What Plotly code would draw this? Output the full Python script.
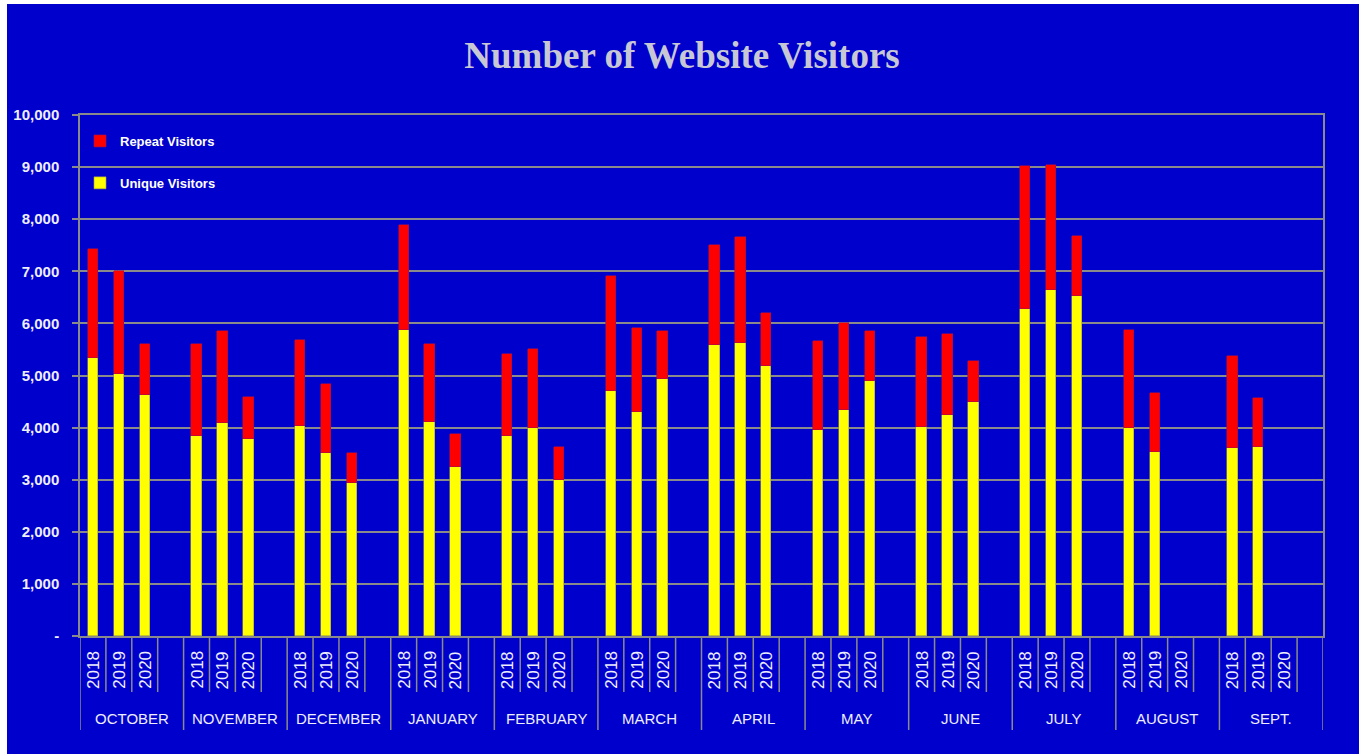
import plotly.graph_objects as go

months = ["OCTOBER", "NOVEMBER", "DECEMBER", "JANUARY", "FEBRUARY", "MARCH",
          "APRIL", "MAY", "JUNE", "JULY", "AUGUST", "SEPT."]
years = ["2018", "2019", "2020"]

unique_2018 = [5340, 3840, 4040, 5870, 3840, 4710, 5580, 3950, 4010, 6280, 3990, 3600]
unique_2019 = [5020, 4090, 3510, 4110, 3990, 4300, 5620, 4340, 4240, 6640, 3530, 3620]
unique_2020 = [4630, 3780, 2930, 3240, 2990, 4940, 5190, 4900, 4500, 6520, None, None]

repeat_2018 = [2080, 1770, 1640, 2010, 1570, 2200, 1930, 1710, 1730, 2740, 1880, 1770]
repeat_2019 = [1990, 1760, 1330, 1500, 1510, 1610, 2030, 1670, 1550, 2400, 1130, 940]
repeat_2020 = [980, 800, 580, 640, 640, 910, 1010, 950, 770, 1150, None, None]

y_ticks = [0, 1000, 2000, 3000, 4000, 5000, 6000, 7000, 8000, 9000, 10000]
y_tick_text = ["-", "1,000", "2,000", "3,000", "4,000", "5,000", "6,000",
               "7,000", "8,000", "9,000", "10,000"]

uniques = [unique_2018, unique_2019, unique_2020]
repeats = [repeat_2018, repeat_2019, repeat_2020]

SLOTS = 4  # 3 years + 1 empty slot per month
xs, u_vals, r_vals = [], [], []
for m in range(len(months)):
    for yi in range(len(years)):
        xs.append(m * SLOTS + yi)
        u_vals.append(uniques[yi][m])
        r_vals.append(repeats[yi][m])

BG = "#0000CC"
GRID = "#8A8A8A"
TXT = "#EEEEFF"
SANS = "Liberation Sans, Arial, sans-serif"
W, H = 1364, 754
L, R, T, B = 80, 41, 115, 118
pw, ph = W - L - R, H - T - B


def py(p):
    return (H - B - p) / ph


def px(p):
    return (p - L) / pw


fig = go.Figure()
fig.add_trace(go.Bar(x=xs, y=u_vals, name="Unique Visitors", legendgroup="u",
                     legendrank=2,
                     marker=dict(color="#FFFF00", line=dict(color="#9A9A50", width=0.6)),
                     width=0.4))
fig.add_trace(go.Bar(x=xs, y=r_vals, name="Repeat Visitors", legendgroup="r",
                     legendrank=1,
                     marker=dict(color="#FF0000", line=dict(color="#9A1050", width=0.6)),
                     width=0.4))

shapes = []
annotations = []
n_slots = len(months) * SLOTS
for i in range(n_slots + 1):
    is_month = (i % SLOTS == 0)
    shapes.append(dict(type="line", xref="x", yref="paper",
                       x0=i - 0.5, x1=i - 0.5, y0=0,
                       y1=py(730) if is_month else py(692),
                       line=dict(color=GRID, width=1.5)))
for m, name in enumerate(months):
    for yi, yr in enumerate(years):
        annotations.append(dict(x=m * SLOTS + yi, xref="x", y=py(670), yref="paper",
                                yanchor="middle", xanchor="center",
                                text=yr, textangle=-90, showarrow=False,
                                font=dict(family=SANS, size=17, color=TXT)))
    annotations.append(dict(x=m * SLOTS + 1.5, xref="x", y=py(718), yref="paper",
                            yanchor="middle", xanchor="center",
                            text=name, showarrow=False,
                            font=dict(family=SANS, size=15, color=TXT)))

# white frame strips around the blue page
for (x0, x1, y0, y1) in [(0, 7, 0, H), (1359, W, 0, H), (0, W, 0, 4)]:
    shapes.append(dict(type="rect", xref="paper", yref="paper",
                       x0=px(x0), x1=px(x1), y0=py(y1), y1=py(y0),
                       fillcolor="white", line=dict(width=0), layer="above"))

fig.update_layout(
    width=W, height=H,
    barmode="stack",
    paper_bgcolor=BG, plot_bgcolor=BG,
    margin=dict(l=L, r=R, t=T, b=B),
    title=dict(text="<b>Number of Website Visitors</b>", x=0.5, xanchor="center",
               y=1 - 55 / H, yanchor="middle",
               font=dict(family="Liberation Serif, DejaVu Serif, serif", size=37,
                         color="#C8C8D4")),
    xaxis=dict(range=[-0.5, n_slots - 0.5], showticklabels=False, showgrid=False,
               zeroline=False, showline=True, linecolor=GRID, linewidth=1.5,
               mirror=True, ticks=""),
    yaxis=dict(range=[0, 10000], tickvals=y_ticks, ticktext=y_tick_text,
               showgrid=True, gridcolor=GRID, gridwidth=1.5, zeroline=False,
               showline=True, linecolor=GRID, linewidth=1.5, mirror=True,
               ticks="outside", ticklen=6, tickcolor=GRID, tickwidth=1.5,
               ticklabelstandoff=10,
               tickfont=dict(family=SANS, size=15, color=TXT, weight="bold")),
    legend=dict(x=0.0, y=py(126), xanchor="left", yanchor="top",
                traceorder="grouped", tracegroupgap=22,
                bgcolor="rgba(0,0,0,0)",
                font=dict(family=SANS, size=13, color="#FFFFFF", weight="bold")),
    shapes=shapes,
    annotations=annotations,
    bargap=0,
)

fig.write_html("out.html", config={"displayModeBar": False},
               post_script="document.body.style.margin='0';")
